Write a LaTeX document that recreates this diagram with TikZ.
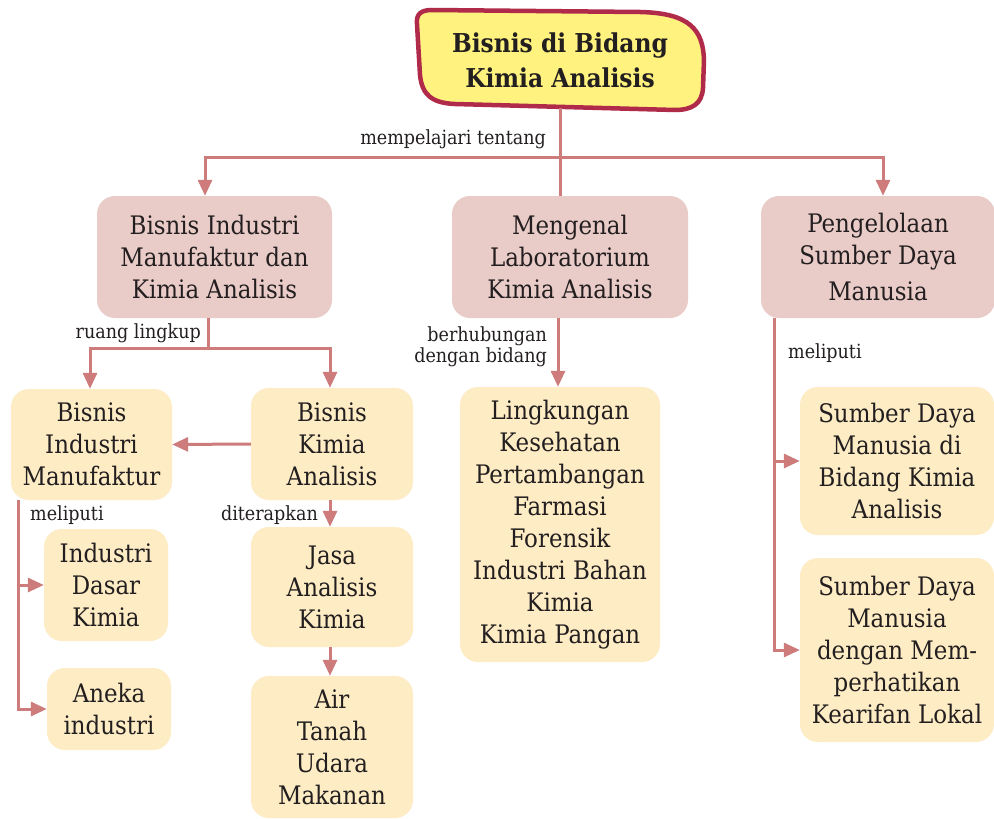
\documentclass[tikz,border=0pt]{standalone}
\usepackage{fontspec}
\setmainfont{DejaVu Serif Condensed}
\usetikzlibrary{arrows.meta}
\definecolor{lnc}{HTML}{CD7B7B}
\definecolor{pinkc}{HTML}{E9CBC7}
\definecolor{yelc}{HTML}{FDECC4}
\definecolor{titlef}{HTML}{FFF27E}
\definecolor{titleb}{HTML}{B02A4A}
\definecolor{txt}{HTML}{231F20}
\tikzset{
  boxbase/.style={rounded corners=18pt, align=center, text=txt, inner sep=0pt,
    font=\fontsize{25.5}{32}\selectfont},
  pinkbox/.style={boxbase, fill=pinkc},
  ybox/.style={boxbase, fill=yelc},
  lbl/.style={font=\fontsize{19.5}{21}\selectfont, text=txt, inner sep=0pt},
  plain/.style={draw=lnc, line width=3pt},
  arr/.style={plain, -{Triangle[length=16pt,width=14pt]}},
}
\begin{document}
\begin{tikzpicture}[x=1pt,y=-1pt]
\useasboundingbox (0,0) rectangle (994,819);
\clip (0,0) rectangle (994,819);
\fill[white] (0,0) rectangle (994,819);

% title
\draw[draw=titleb, fill=titlef, line width=4.5pt]
  (432,10) -- (640,12) .. controls (690,13) and (703,30) .. (704,60)
  -- (703,88) .. controls (702,104) and (692,110) .. (675,110)
  -- (455,104) .. controls (432,103) and (422,95) .. (420,75)
  -- (417,24) .. controls (416,14) and (421,10) .. (432,10) -- cycle;
\node[minimum width=288pt, minimum height=96pt, align=center, text=txt, inner sep=0pt,
  font=\fontsize{26}{35}\bfseries\selectfont] (title) at (560,60)
  {Bisnis di Bidang\\Kimia Analisis};

% level 1
\node[pinkbox, minimum width=235pt, minimum height=122pt] (b1) at (214.5,257)
  {Bisnis Industri\\Manufaktur dan\\Kimia Analisis};
\node[pinkbox, minimum width=236pt, minimum height=122pt] (b2) at (570,257)
  {Mengenal\\Laboratorium\\Kimia Analisis};
\node[pinkbox, minimum width=234pt, minimum height=122pt] (b3) at (878,257)
  {Pengelolaan\\Sumber Daya\\[4pt]Manusia};

% left branch
\node[ybox, minimum width=161pt, minimum height=111pt] (y1) at (91.5,444.5)
  {Bisnis\\Industri\\Manufaktur};
\node[ybox, minimum width=162pt, minimum height=112pt] (y2) at (332,444)
  {Bisnis\\Kimia\\Analisis};
\node[ybox, minimum width=162pt, minimum height=120pt] (y3) at (332,587)
  {Jasa\\Analisis\\Kimia};
\node[ybox, minimum width=162pt, minimum height=142pt] (y4) at (332,747)
  {Air\\Tanah\\Udara\\Makanan};
\node[ybox, minimum width=124pt, minimum height=112pt] (y5) at (106,585)
  {Industri\\Dasar\\Kimia};
\node[ybox, minimum width=124pt, minimum height=82pt] (y6) at (109,709)
  {Aneka\\industri};

% middle
\node[ybox, minimum width=200pt, minimum height=275pt] (m1) at (560,524.5)
  {Lingkungan\\Kesehatan\\Pertambangan\\Farmasi\\Forensik\\Industri Bahan\\Kimia\\Kimia Pangan};

% right
\node[ybox, minimum width=194pt, minimum height=148pt] (r1) at (897,461)
  {Sumber Daya\\Manusia di\\Bidang Kimia\\Analisis};
\node[ybox, minimum width=194pt, minimum height=184pt] (r2) at (897,650)
  {Sumber Daya\\Manusia\\dengan Mem-\\perhatikan\\Kearifan Lokal};

% connectors
\coordinate (hy) at (560,157);
\draw[plain] (title.south) -- (title.south |- b2.north);
\draw[arr] (title.south |- hy) -| ([xshift=-9.5pt]b1.north);
\draw[arr] (title.south |- hy) -| ([xshift=5pt]b3.north);
\node[lbl, anchor=east] (l1) at (546,139) {mempelajari tentang};

\draw[arr] ([xshift=-6.5pt]b1.south) -- ++(0,30) -| ([xshift=-1.5pt]y1.north);
\draw[arr] ([xshift=-6.5pt]b1.south) -- ++(0,30) -| ([xshift=-2pt]y2.north);
\node[lbl, anchor=east] (l2) at (201,333) {ruang lingkup};

\draw[arr] (y2.west) -- (y1.east);
\draw[arr] ([xshift=-2pt]y2.south) -- ([xshift=-2pt]y3.north);
\node[lbl, anchor=east] (l3) at (318,515) {diterapkan};
\draw[arr] ([xshift=-2pt]y3.south) -- ([xshift=-2pt]y4.north);

\draw[arr] ([xshift=8pt]y1.south west) |- (y5.west);
\draw[arr] ([xshift=8pt]y1.south west) |- (y6.west);
\node[lbl, anchor=west] (l4) at (30,515) {meliputi};

\draw[arr] ([xshift=-2pt]m1.north |- b2.south) -- ([xshift=-2pt]m1.north);
\node[lbl, anchor=east, align=right, font=\fontsize{19.5}{21}\selectfont] (l5) at (547,347)
  {berhubungan\\dengan bidang};

\draw[arr] ([xshift=14pt]b3.south west) |- (r1.west);
\draw[arr] ([xshift=14pt]b3.south west) |- (r2.west);
\node[lbl, anchor=west] (l6) at (788,353) {meliputi};
\end{tikzpicture}
\end{document}
